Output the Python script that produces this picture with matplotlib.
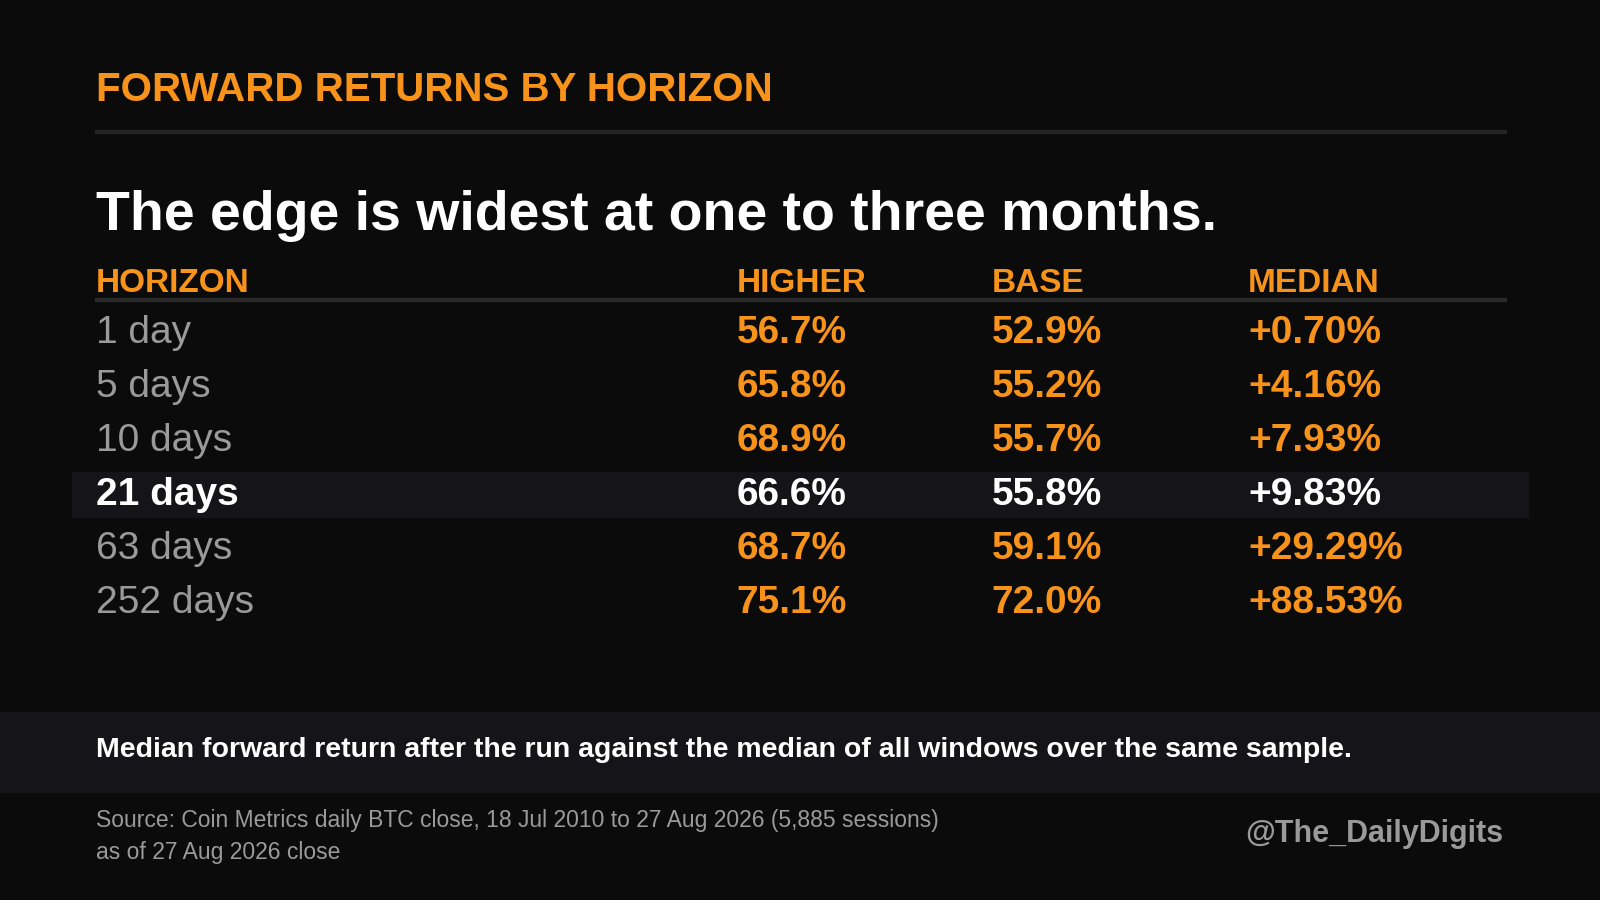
import matplotlib.pyplot as plt
from matplotlib.patches import Rectangle

plt.rcParams['font.family'] = ['Liberation Sans', 'DejaVu Sans']

horizons = ["1 day", "5 days", "10 days", "21 days", "63 days", "252 days"]
higher = ["56.7%", "65.8%", "68.9%", "66.6%", "68.7%", "75.1%"]
base = ["52.9%", "55.2%", "55.7%", "55.8%", "59.1%", "72.0%"]
median = ["+0.70%", "+4.16%", "+7.93%", "+9.83%", "+29.29%", "+88.53%"]
highlight = "21 days"

BG = "#0b0b0b"
ORANGE = "#f7931a"
GREY = "#9a9a9a"
W, H = 1568, 882

fig = plt.figure(figsize=(16, 9), dpi=100, facecolor=BG)


def fx(x):
    return x / W


def fy(y):
    return 1 - y / H


def txt(x, y, s, **kw):
    fig.text(fx(x), fy(y), s, va='center', ha=kw.pop('ha', 'left'), **kw)


def rect(x0, y0, x1, y1, color):
    fig.patches.append(Rectangle((fx(x0), fy(y1)), fx(x1) - fx(x0), fy(y0) - fy(y1),
                                 transform=fig.transFigure, color=color, zorder=0))


txt(94, 88, "FORWARD RETURNS BY HORIZON", color=ORANGE, fontsize=29, fontweight='bold')
rect(93, 127, 1476, 130, "#242424")
txt(94, 212, "The edge is widest at one to three months.", color="white",
    fontsize=40, fontweight='bold')

cols = [94, 722, 972, 1223]
for x, h in zip(cols, ["HORIZON", "HIGHER", "BASE", "MEDIAN"]):
    txt(x, 278, h, color=ORANGE, fontsize=24, fontweight='bold')
rect(93, 292, 1476, 295, "#2a2a2a")

for i, (hz, hi, ba, me) in enumerate(zip(horizons, higher, base, median)):
    y = 326 + i * 53
    hl = hz == highlight
    if hl:
        rect(71, y - 22, 1497, y + 22, "#141419")
    txt(cols[0], y, hz, color="white" if hl else GREY, fontsize=28,
        fontweight='bold' if hl else 'normal')
    for x, v in zip(cols[1:], [hi, ba, me]):
        txt(x, y, v, color="white" if hl else ORANGE, fontsize=28, fontweight='bold')

rect(0, 698, W, 776, "#141419")
txt(94, 735, "Median forward return after the run against the median of all windows over the same sample.",
    color="white", fontsize=20.5, fontweight='bold')

txt(94, 804, "Source: Coin Metrics daily BTC close, 18 Jul 2010 to 27 Aug 2026 (5,885 sessions)",
    color=GREY, fontsize=16.5)
txt(94, 835, "as of 27 Aug 2026 close", color=GREY, fontsize=16.5)
txt(1473, 817, "@The_DailyDigits", color=GREY, fontsize=22, fontweight='bold', ha='right')

fig.savefig("out.png", dpi=100, facecolor=BG)
